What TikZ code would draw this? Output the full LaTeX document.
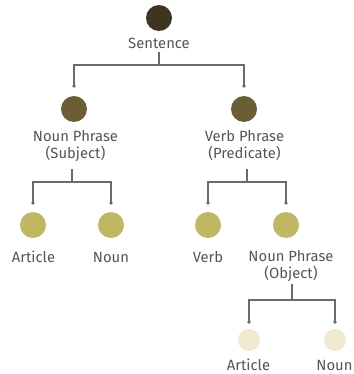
\documentclass[tikz,border=0pt]{standalone}
\usepackage{fontspec}
\setmainfont{Fira Sans}
\definecolor{lvA}{HTML}{3D3520}
\definecolor{lvB}{HTML}{6B5D35}
\definecolor{lvC}{HTML}{C0B664}
\definecolor{lvD}{HTML}{F2EAD0}
\definecolor{txtgray}{HTML}{555555}
\definecolor{lngray}{HTML}{6A6A6A}
\begin{document}
\begin{tikzpicture}[x=1pt,y=-1pt,
  bullet/.style={circle, inner sep=0pt, minimum size=26pt},
  small bullet/.style={circle, inner sep=0pt, minimum size=22pt},
  lbl/.style={text=txtgray, font=\fontsize{14.8}{17}\selectfont, align=center, inner sep=0pt, anchor=base},
  conn/.style={draw=lngray, line width=1.1pt},
  pin/.style={fill=lngray}]
\useasboundingbox (0,0) rectangle (353,374);

% tree nodes
\node[bullet, fill=lvA] (s)   at (159,18)  {};
\node[bullet, fill=lvB] (np)  at (74,109)  {};
\node[bullet, fill=lvB] (vp)  at (244,109) {};
\node[bullet, fill=lvC] (art) at (33,225)  {};
\node[bullet, fill=lvC] (nn)  at (111,225) {};
\node[bullet, fill=lvC] (vb)  at (208,225) {};
\node[bullet, fill=lvC] (npo) at (286,225) {};
\node[small bullet, fill=lvD] (art2) at (249,340) {};
\node[small bullet, fill=lvD] (nn2)  at (335,340) {};

% labels (base anchor = baseline of the last line)
\node[lbl] (s-l)   at (159,49)  {Sentence};
\node[lbl] (np-l)  at (75.5,158) {Noun Phrase\\(Subject)};
\node[lbl] (vp-l)  at (244.5,158) {Verb Phrase\\(Predicate)};
\node[lbl] (art-l) at (33.5,262) {Article};
\node[lbl] (nn-l)  at (111,262) {Noun};
\node[lbl] (vb-l)  at (208,262) {Verb};
\node[lbl] (npo-l) at (291,278.5) {Noun Phrase\\(Object)};
\node[lbl] (art2-l) at (248.5,370) {Article};
\node[lbl] (nn2-l)  at (334.5,370) {Noun};

% branch points
\coordinate (s-o) at (159,52);   \coordinate (s-b) at (159,65);
\coordinate (np-o) at (72,169);  \coordinate (np-b) at (72,182);
\coordinate (vp-o) at (247,169); \coordinate (vp-b) at (247,182);
\coordinate (npo-o) at (292,284); \coordinate (npo-b) at (292,300);

% pins above child nodes
\coordinate (np-in)  at (74,86);
\coordinate (vp-in)  at (244,86);
\coordinate (art-in) at (33,203);
\coordinate (nn-in)  at (111,203);
\coordinate (vb-in)  at (208,203);
\coordinate (npo-in) at (286,203);
\coordinate (art2-in) at (249,322);
\coordinate (nn2-in)  at (335,322);

% connectors
\draw[conn] (s-o) -- (s-b) -| (np-in);
\draw[conn] (s-b) -| (vp-in);
\draw[conn] (np-o) -- (np-b) -| (art-in);
\draw[conn] (np-b) -| (nn-in);
\draw[conn] (vp-o) -- (vp-b) -| (vb-in);
\draw[conn] (vp-b) -| (npo-in);
\draw[conn] (npo-o) -- (npo-b) -| (art2-in);
\draw[conn] (npo-b) -| (nn2-in);

\foreach \p in {np-in,vp-in,art-in,nn-in,vb-in,npo-in,art2-in,nn2-in}
  \fill[pin] (\p) circle (1.8pt);
\end{tikzpicture}
\end{document}
